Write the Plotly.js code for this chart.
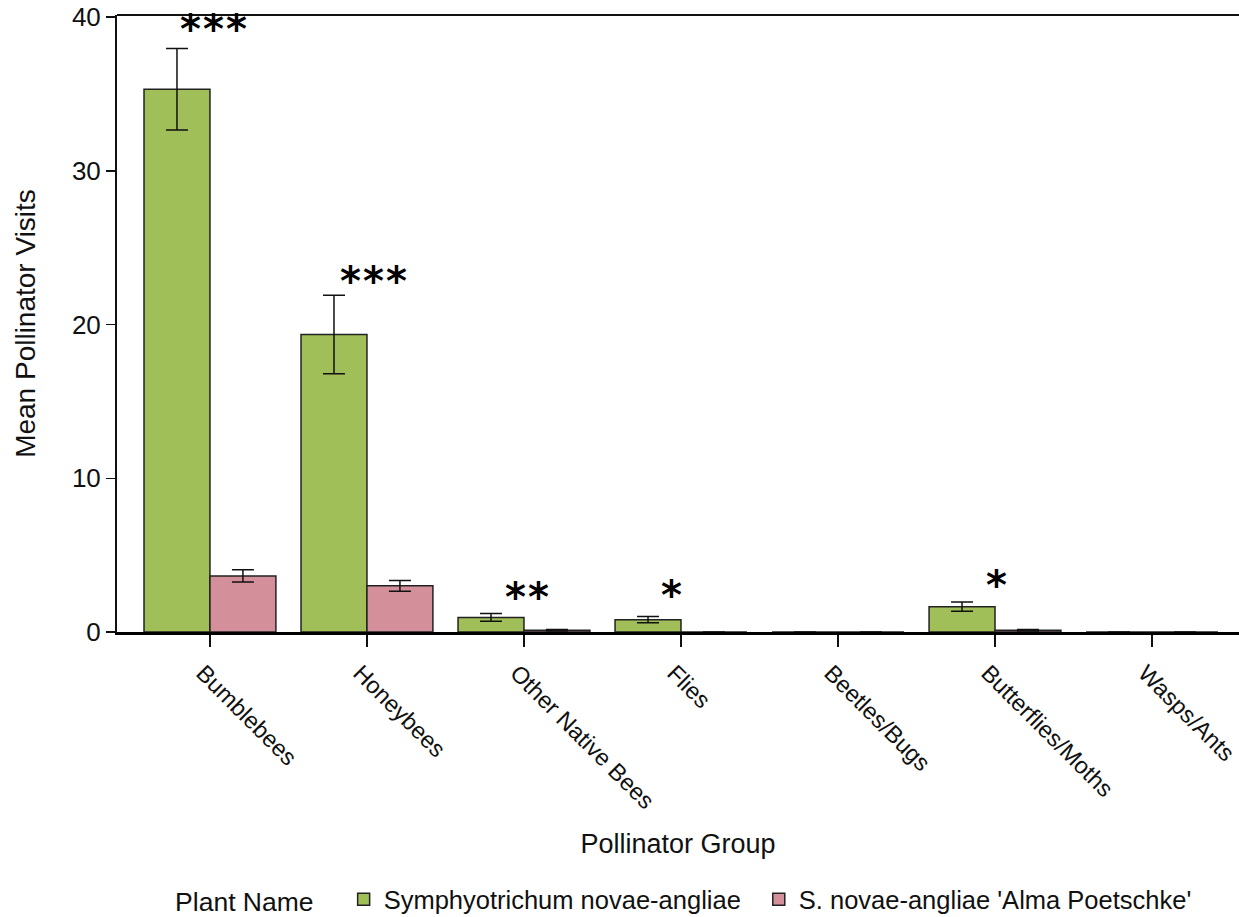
<!DOCTYPE html>
<html>
<head>
<meta charset="utf-8">
<script src="https://cdn.plot.ly/plotly-3.0.1.min.js"></script>
<style>html,body{margin:0;padding:0;background:#fff;}#chart{width:1239px;height:917px;}</style>
</head>
<body>
<div id="chart"></div>
<script>
const categories = ["Bumblebees", "Honeybees", "Other Native Bees", "Flies", "Beetles/Bugs", "Butterflies/Moths", "Wasps/Ants"];
const seriesNames = ["Symphyotrichum novae-angliae", "S. novae-angliae 'Alma Poetschke'"];
const nativeMeans = [35.3, 19.35, 0.95, 0.8, 0, 1.65, 0];
const nativeErr = [2.65, 2.55, 0.25, 0.2, 0, 0.3, 0];
const cultivarMeans = [3.65, 3.0, 0.12, 0, 0, 0.12, 0];
const cultivarErr = [0.4, 0.35, 0.05, 0, 0, 0.05, 0];
const sigLabels = ["***", "***", "**", "*", "", "*", ""];
const sigY = [39.2, 22.8, 2.3, 2.4, 0, 3.05, 0];
const sigXOffset = [0.02, 0.04, 0.02, -0.06, 0, 0.01, 0];

const green = "#a0bf58";
const pink = "#d4909a";

const errStyle = (arr) => ({type: "data", array: arr, visible: true, color: "#111", thickness: 1.5, width: 11});

const traces = [
  {type: "bar", name: seriesNames[0], x: categories, y: nativeMeans, error_y: errStyle(nativeErr),
   marker: {color: green, line: {color: "#222", width: 1.5}}, legend: "legend"},
  {type: "bar", name: seriesNames[1], x: categories, y: cultivarMeans, error_y: errStyle(cultivarErr),
   marker: {color: pink, line: {color: "#222", width: 1.5}}, legend: "legend2"}
];

const annotations = [];
sigLabels.forEach((s, i) => {
  if (!s) return;
  annotations.push({x: i + sigXOffset[i], y: sigY[i], xref: "x", yref: "y", text: "<b>" + s.split("").join("<span style='font-size:6px'> </span>") + "</b>", showarrow: false,
    font: {family: "DejaVu Sans", size: 40, color: "#000"}, xanchor: "center", yanchor: "middle"});
});

const layout = {
  width: 1239, height: 917,
  margin: {l: 117, r: 0, t: 15, b: 285, autoexpand: false},
  paper_bgcolor: "#fff", plot_bgcolor: "#fff",
  font: {family: "Liberation Sans, Arial, sans-serif", color: "#111"},
  barmode: "group", bargap: 0.16, bargroupgap: 0,
  showlegend: true,
  legend: {orientation: "h", x: 0.05, xanchor: "left", y: -0.434, yanchor: "middle",
    font: {size: 25.5, color: "#111"}, title: {text: "Plant Name   ", side: "left", font: {size: 26.5, color: "#111"}}},
  legend2: {orientation: "h", x: 0.572, xanchor: "left", y: -0.434, yanchor: "middle",
    font: {size: 25.5, color: "#111"}},
  xaxis: {type: "category", categoryorder: "array", categoryarray: categories,
    range: [-0.592, 6.554], tickangle: 45, tickfont: {size: 23.5, color: "#111"},
    ticklabelshift: -7, ticklabelstandoff: 3,
    showline: true, linecolor: "#000", linewidth: 3, ticks: "outside", ticklen: 12, tickcolor: "#111", tickwidth: 1.5,
    showgrid: false, zeroline: false,
    title: {text: "Pollinator Group", font: {size: 27, color: "#111"}, standoff: 22}},
  yaxis: {range: [0, 40.13], tickvals: [0, 10, 20, 30, 40], tickfont: {size: 26, color: "#111"},
    showline: true, linecolor: "#111", linewidth: 2, ticks: "outside", ticklen: 9, tickcolor: "#111", tickwidth: 1.5,
    showgrid: false, zeroline: false,
    title: {text: "Mean Pollinator Visits", font: {size: 28, color: "#111"}, standoff: 28}},
  shapes: [{type: "line", xref: "paper", yref: "paper", x0: 0, x1: 1, y0: 1, y1: 1, line: {color: "#111", width: 2}}],
  annotations: annotations
};

Plotly.newPlot("chart", traces, layout, {displayModeBar: false, staticPlot: true});
</script>
</body>
</html>
